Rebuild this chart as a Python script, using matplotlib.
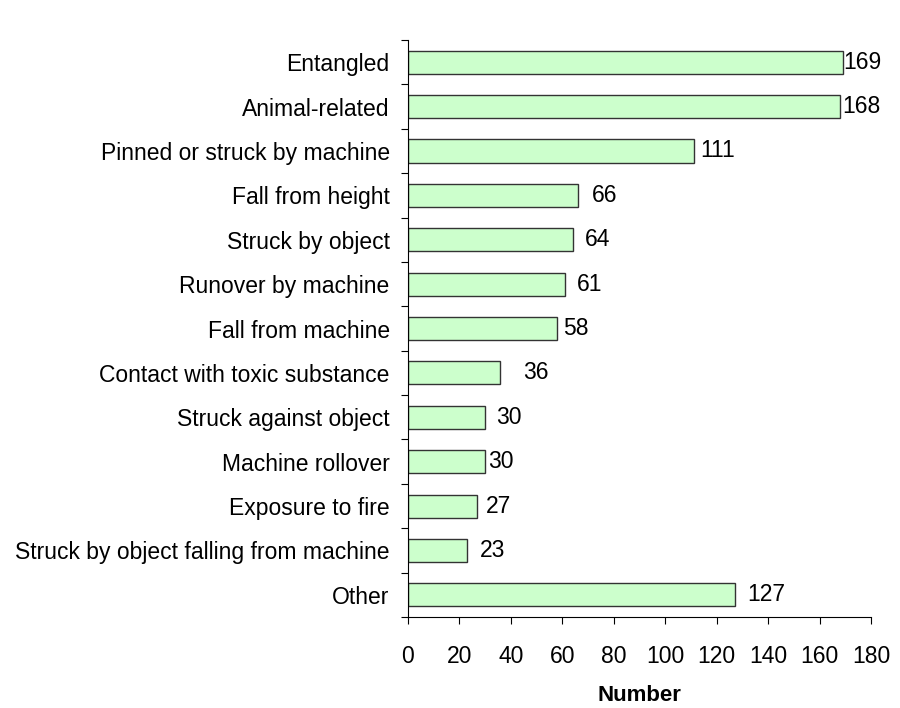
import matplotlib.pyplot as plt
import numpy as np

plt.rcParams['font.family'] = ['Liberation Sans', 'DejaVu Sans']

categories = [
    "Entangled",
    "Animal-related",
    "Pinned or struck by machine",
    "Fall from height",
    "Struck by object",
    "Runover by machine",
    "Fall from machine",
    "Contact with toxic substance",
    "Struck against object",
    "Machine rollover",
    "Exposure to fire",
    "Struck by object falling from machine",
    "Other",
]
counts = [169, 168, 111, 66, 64, 61, 58, 36, 30, 30, 27, 23, 127]
# label gap from bar end, in points (the original places them unevenly)
label_gap = [0, 1.5, 5, 10, 9, 9, 4.5, 16, 8, 2, 6, 9, 9]

fig = plt.figure(figsize=(9, 7.08), dpi=100)
ax = fig.add_axes([0.453, 0.1285, 0.515, 0.815])

y = np.arange(len(categories))
ax.barh(y, counts, height=0.52, color='#ccffcc', edgecolor='#333333', linewidth=1.0)

for yi, v, g in zip(y, counts, label_gap):
    ax.annotate(str(v), (v, yi), xytext=(g, 0), textcoords='offset points',
                va='center', ha='left', fontsize=16.5)

ax.set_ylim(len(categories) - 0.5, -0.5)
ax.set_xlim(0, 180)
ax.set_xticks(np.arange(0, 181, 20))
ax.set_yticks(np.arange(len(categories) + 1) - 0.5)
ax.set_yticklabels([])
ax.set_yticks(y, minor=True)
ax.set_yticklabels(categories, minor=True, fontsize=16.5)
ax.tick_params(axis='y', which='minor', length=0, pad=13)
ax.tick_params(axis='y', which='major', length=5, direction='out')
ax.tick_params(axis='x', length=5, direction='out', labelsize=16.5, pad=15.5)

for s in ['top', 'right']:
    ax.spines[s].set_visible(False)
ax.set_xlabel("Number", fontsize=16, fontweight='bold', labelpad=12)

plt.savefig("out.png", dpi=100)
